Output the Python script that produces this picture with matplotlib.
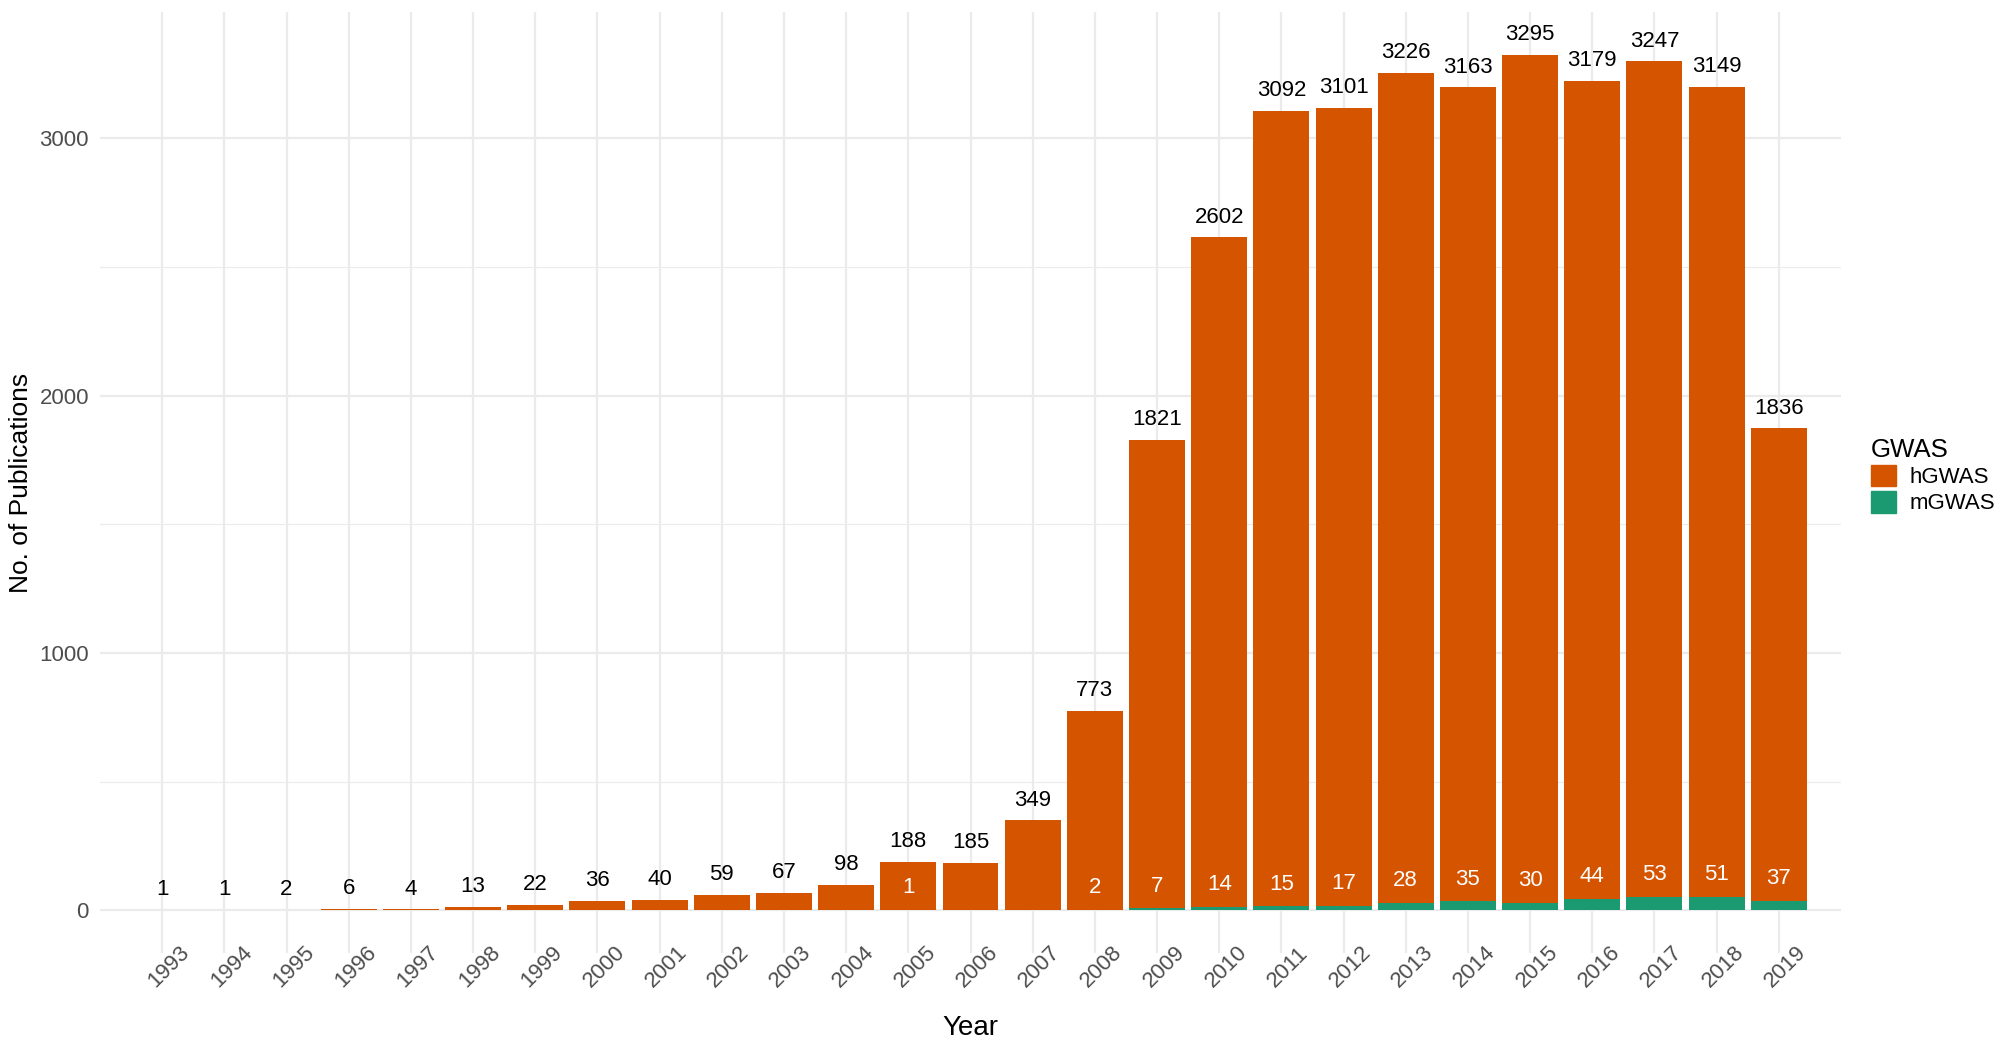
import matplotlib
matplotlib.use("Agg")
import matplotlib.pyplot as plt
import matplotlib.transforms as mtransforms
from matplotlib.patches import Patch

plt.rcParams["font.family"] = ["Liberation Sans", "DejaVu Sans"]

# 数据
years = list(range(1993, 2020))
hgwas = [1, 1, 2, 6, 4, 13, 22, 36, 40, 59, 67, 98, 188, 185, 349, 773,
         1821, 2602, 3092, 3101, 3226, 3163, 3295, 3179, 3247, 3149, 1836]
mgwas = [0, 0, 0, 0, 0, 0, 0, 0, 0, 0, 0, 0, 1, 0, 0, 2,
         7, 14, 15, 17, 28, 35, 30, 44, 53, 51, 37]

c_h = "#D55400"
c_m = "#1B9A72"
grid_c = "#EBEBEB"

fig = plt.figure(figsize=(20.02, 10.47), dpi=100)
ax = fig.add_axes([100 / 2002, 1 - 953 / 1047, (1841 - 100) / 2002, (953 - 12) / 1047])

# 堆叠柱：mGWAS 在下，hGWAS 在上
ax.bar(years, mgwas, width=0.9, color=c_m, zorder=2)
ax.bar(years, hgwas, width=0.9, bottom=mgwas, color=c_h, zorder=2)

# 标签
for y, h, m in zip(years, hgwas, mgwas):
    ax.annotate(str(h), (y, h + m), xytext=(0, 14.5), textcoords="offset points",
                ha="center", va="center", fontsize=16, color="black")
    if m > 0:
        ax.annotate(str(m), (y, m), xytext=(0, 16), textcoords="offset points",
                    ha="center", va="center", fontsize=16, color="white")

total_max = max(h + m for h, m in zip(hgwas, mgwas))
ax.set_xlim(1992, 2020)
ax.set_ylim(-0.05 * total_max, 1.05 * total_max)

# x 刻度标签：旋转 45 度，中心略偏右、在轴下方
ax.set_xticks(years)
ax.set_xticklabels([])
shift = mtransforms.ScaledTranslation(0.07, -0.14, fig.dpi_scale_trans)
for y in years:
    ax.text(y, 0, str(y), transform=ax.get_xaxis_transform() + shift,
            rotation=45, rotation_mode="anchor", ha="center", va="center",
            fontsize=16, color="#4D4D4D")

ax.set_yticks([0, 1000, 2000, 3000])
ax.set_yticks([500, 1500, 2500], minor=True)
ax.tick_params(axis="both", which="both", length=0, labelsize=16, labelcolor="#4D4D4D")
ax.tick_params(axis="y", pad=8)

ax.grid(True, which="major", color=grid_c, linewidth=1.6, zorder=0)
ax.grid(True, which="minor", axis="y", color=grid_c, linewidth=0.8, zorder=0)
ax.set_axisbelow(True)
for s in ax.spines.values():
    s.set_visible(False)

ax.set_xlabel("Year", fontsize=20, va="center")
ax.xaxis.set_label_coords(0.5, (953 - 1028) / 941)
ax.set_ylabel("No. of Publications", fontsize=19, va="center")
ax.yaxis.set_label_coords((21 - 100) / 1741, 0.5)

handles = [Patch(color=c_h, label="hGWAS"), Patch(color=c_m, label="mGWAS")]
leg = fig.legend(handles=handles, title="GWAS", loc="upper left",
                 bbox_to_anchor=(1862 / 2002, 1 - 429 / 1047), frameon=False,
                 borderaxespad=0, fontsize=16, title_fontsize=18.6,
                 handlelength=1.125, handleheight=1.125,
                 handletextpad=0.6, labelspacing=0.13)
leg._legend_box.align = "left"

fig.savefig("out.png", dpi=100)
